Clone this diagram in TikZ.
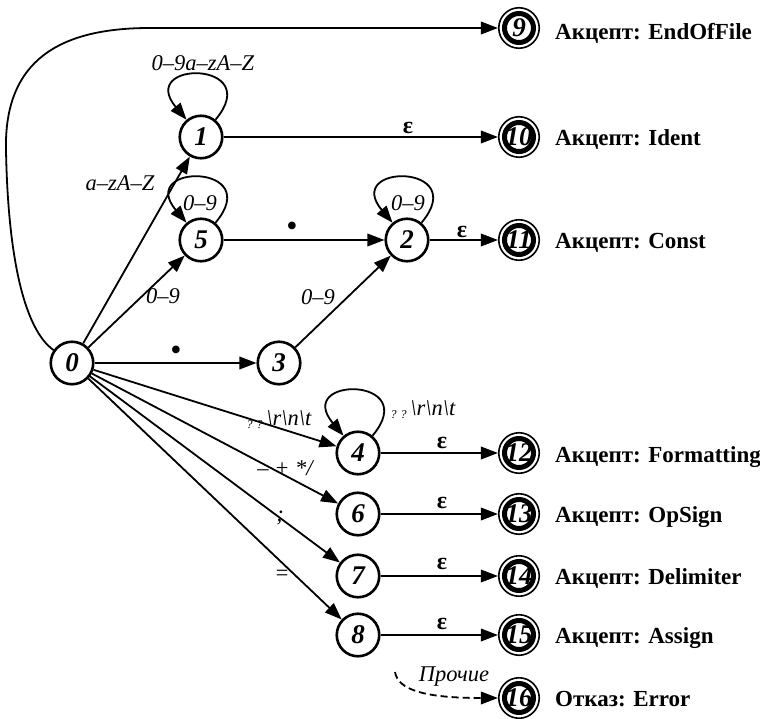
\documentclass[tikz,border=0pt]{standalone}
\usepackage{fontspec}
\setmainfont{Liberation Serif}
\usetikzlibrary{arrows.meta}
\begin{document}
\begin{tikzpicture}[x=1pt,y=1pt,
  state/.style={circle,draw,line width=2.6pt,minimum size=42.5pt,inner sep=0pt,
    font=\fontsize{27}{27}\selectfont\bfseries\itshape},
  acc/.style={circle,draw,line width=1.6pt,minimum size=40.5pt,inner sep=0pt,
    font=\fontsize{27}{27}\selectfont\bfseries\itshape,
    path picture={\draw[line width=5pt] (path picture bounding box.center) circle[radius=14.5pt];}},
  edgeline/.style={line width=1.8pt,-{Triangle[length=17pt,width=12.5pt]}},
  lbl/.style={font=\fontsize{22.5}{24}\selectfont\itshape,inner sep=0pt},
  eps/.style={font=\fontsize{24}{24}\selectfont\bfseries,inner sep=0pt},
  dotlbl/.style={font=\fontsize{32}{32}\selectfont,inner sep=0pt},
  verdict/.style={anchor=base west,font=\fontsize{23}{26}\selectfont\bfseries,inner sep=0pt},
  selfloop/.style={out=50,in=130,min distance=78pt}
]
\useasboundingbox (0,0) rectangle (760,-719);

% states of the automaton
\node[state] (n0) at (72,-363) {0};
\node[state] (n1) at (201,-137) {1};
\node[state] (n5) at (201,-240) {5};
\node[state] (n2) at (407,-240) {2};
\node[state] (n3) at (279,-363) {3};
\node[state] (n4) at (358,-453) {4};
\node[state] (n6) at (358,-514) {6};
\node[state] (n7) at (358,-576) {7};
\node[state] (n8) at (358,-635) {8};

% final states
\node[acc] (n9)  at (519,-28)  {9};
\node[acc] (n10) at (519,-137) {10};
\node[acc] (n11) at (519,-240) {11};
\node[acc] (n12) at (519,-453) {12};
\node[acc] (n13) at (519,-514) {13};
\node[acc] (n14) at (519,-576) {14};
\node[acc] (n15) at (519,-635) {15};
\node[acc] (n16) at (519,-698) {16};

% verdicts of the final states
\node[verdict] (v9)  at (555,-40)  {Акцепт: EndOfFile};
\node[verdict] (v10) at (555,-146) {Акцепт: Ident};
\node[verdict] (v11) at (555,-249) {Акцепт: Const};
\node[verdict] (v12) at (555,-462) {Акцепт: Formatting};
\node[verdict] (v13) at (555,-522) {Акцепт: OpSign};
\node[verdict] (v14) at (555,-584) {Акцепт: Delimiter};
\node[verdict] (v15) at (555,-643) {Акцепт: Assign};
\node[verdict] (v16) at (555,-706) {Отказ: Error};

% transitions
\draw[edgeline] (n0) .. controls (25,-330) and (8,-260) .. (6,-150)
                     .. controls (4,-60) and (60,-28) .. (150,-28) -- (n9);
\draw[edgeline] (n0) -- (n1);
\draw[edgeline] (n0) -- (n5);
\draw[edgeline] (n0) -- (n3);
\draw[edgeline] (n0) -- (n4);
\draw[edgeline] (n0) -- (n6);
\draw[edgeline] (n0) -- (n7);
\draw[edgeline] (n0) -- (n8);
\draw[edgeline] (n1) -- (n10);
\draw[edgeline] (n5) -- (n2);
\draw[edgeline] (n3) -- (n2);
\draw[edgeline] (n2) -- (n11);
\draw[edgeline] (n4) -- (n12);
\draw[edgeline] (n6) -- (n13);
\draw[edgeline] (n7) -- (n14);
\draw[edgeline] (n8) -- (n15);

% self-loops
\draw[edgeline] (n1) to[selfloop] (n1);
\draw[edgeline] (n5) to[selfloop] (n5);
\draw[edgeline] (n2) to[selfloop] (n2);
\draw[edgeline] (n4) to[selfloop] (n4);

% any other symbol
\coordinate (oth) at (395,-672);
\draw[edgeline,dash pattern=on 7pt off 4pt] (oth) .. controls (398,-690) and (425,-698) .. (n16);

% transition labels
\node[lbl] (t01) at (120,-183) {a–zA–Z};
\node[lbl] (t11) at (203,-63)  {0–9a–zA–Z};
\node[lbl] (t55) at (200,-203) {0–9};
\node[lbl] (t05) at (163,-296) {0–9};
\node[dotlbl] (t52) at (292,-229) {•};
\node[lbl] (t22) at (408,-203) {0–9};
\node[lbl] (t32) at (318,-297) {0–9};
\node[dotlbl] (t03) at (176,-353) {•};
\node[lbl] (t04) at (279,-420) {\raisebox{-3pt}{\fontsize{12}{12}\selectfont ? ?}\,\textbackslash r\textbackslash n\textbackslash t};
\node[lbl] (t44) at (423,-410) {\raisebox{-3pt}{\fontsize{12}{12}\selectfont ? ?}\,\textbackslash r\textbackslash n\textbackslash t};
\node[lbl] (t06) at (285,-468) {– + */};
\node[lbl] (t07) at (280,-518) {;};
\node[lbl] (t08) at (282,-575) {=};
\node[lbl] (tot) at (454,-677) {Прочие};

% empty transitions
\node[eps] (e10) at (408,-128) {ε};
\node[eps] (e11) at (462,-232) {ε};
\node[eps] (e12) at (442,-443) {ε};
\node[eps] (e13) at (442,-503) {ε};
\node[eps] (e14) at (442,-564) {ε};
\node[eps] (e15) at (442,-624) {ε};
\end{tikzpicture}
\end{document}
